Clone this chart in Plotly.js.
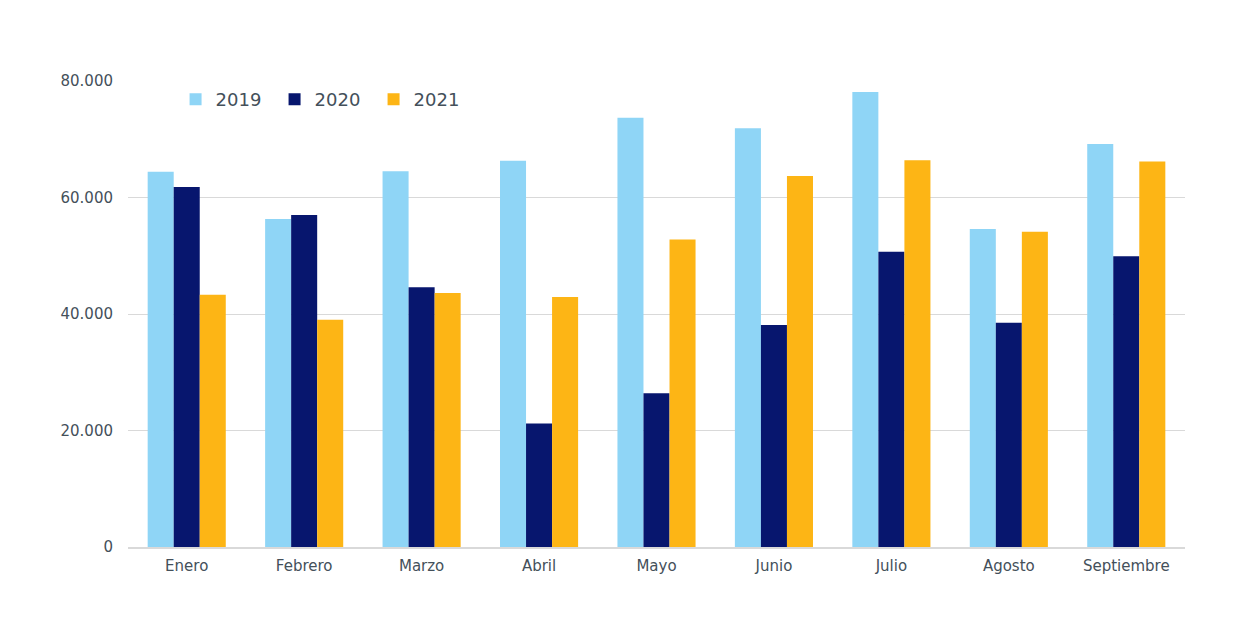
<!DOCTYPE html>
<html>
<head>
<meta charset="utf-8">
<script src="https://cdn.plot.ly/plotly-3.0.1.min.js"></script>
<style>html,body{margin:0;padding:0;background:#fff;}#chart{width:1248px;height:640px;}</style>
</head>
<body>
<div id="chart"></div>
<script>
const months = ["Enero","Febrero","Marzo","Abril","Mayo","Junio","Julio","Agosto","Septiembre"];
const v2019 = [64400, 56300, 64500, 66300, 73700, 71900, 78100, 54600, 69200];
const v2020 = [61800, 57000, 44600, 21200, 26400, 38100, 50700, 38500, 49900];
const v2021 = [43300, 39000, 43600, 42900, 52800, 63700, 66400, 54100, 66200];
const yTicks = [0, 20000, 40000, 60000, 80000];

const mk = (name, y, color) => ({type:'bar', name:name, x:months, y:y, marker:{color:color}, hoverinfo:'y'});
const data = [
  mk('2019', v2019, '#8fd5f6'),
  mk('2020', v2020, '#07166e'),
  mk('2021', v2021, '#fdb515')
];
const layout = {
  width:1248, height:640,
  margin:{l:128, r:63, t:81, b:93},
  paper_bgcolor:'#fff', plot_bgcolor:'#fff',
  separators:',.',
  barmode:'group', bargap:0.335, bargroupgap:0,
  font:{family:'DejaVu Sans, sans-serif', color:'#44505a', size:15},
  xaxis:{showgrid:false, showline:true, linecolor:'#d9d9d9', linewidth:1.5, ticks:'', ticklabelstandoff:4, tickfont:{size:15}},
  yaxis:{range:[0,80000], tickvals:yTicks, tickformat:',d', showgrid:true, gridcolor:'#d9d9d9', gridwidth:1,
         zeroline:false, showline:false, ticks:'', ticklabelstandoff:14, tickfont:{size:15}},
  legend:{orientation:'h', x:0.045, y:1.0, xanchor:'left', yanchor:'top', font:{size:18},
          itemwidth:30, entrywidth:54, entrywidthmode:'pixels', bgcolor:'rgba(0,0,0,0)', traceorder:'normal'},
  showlegend:true
};
Plotly.newPlot('chart', data, layout, {displayModeBar:false, staticPlot:true});
</script>
</body>
</html>
